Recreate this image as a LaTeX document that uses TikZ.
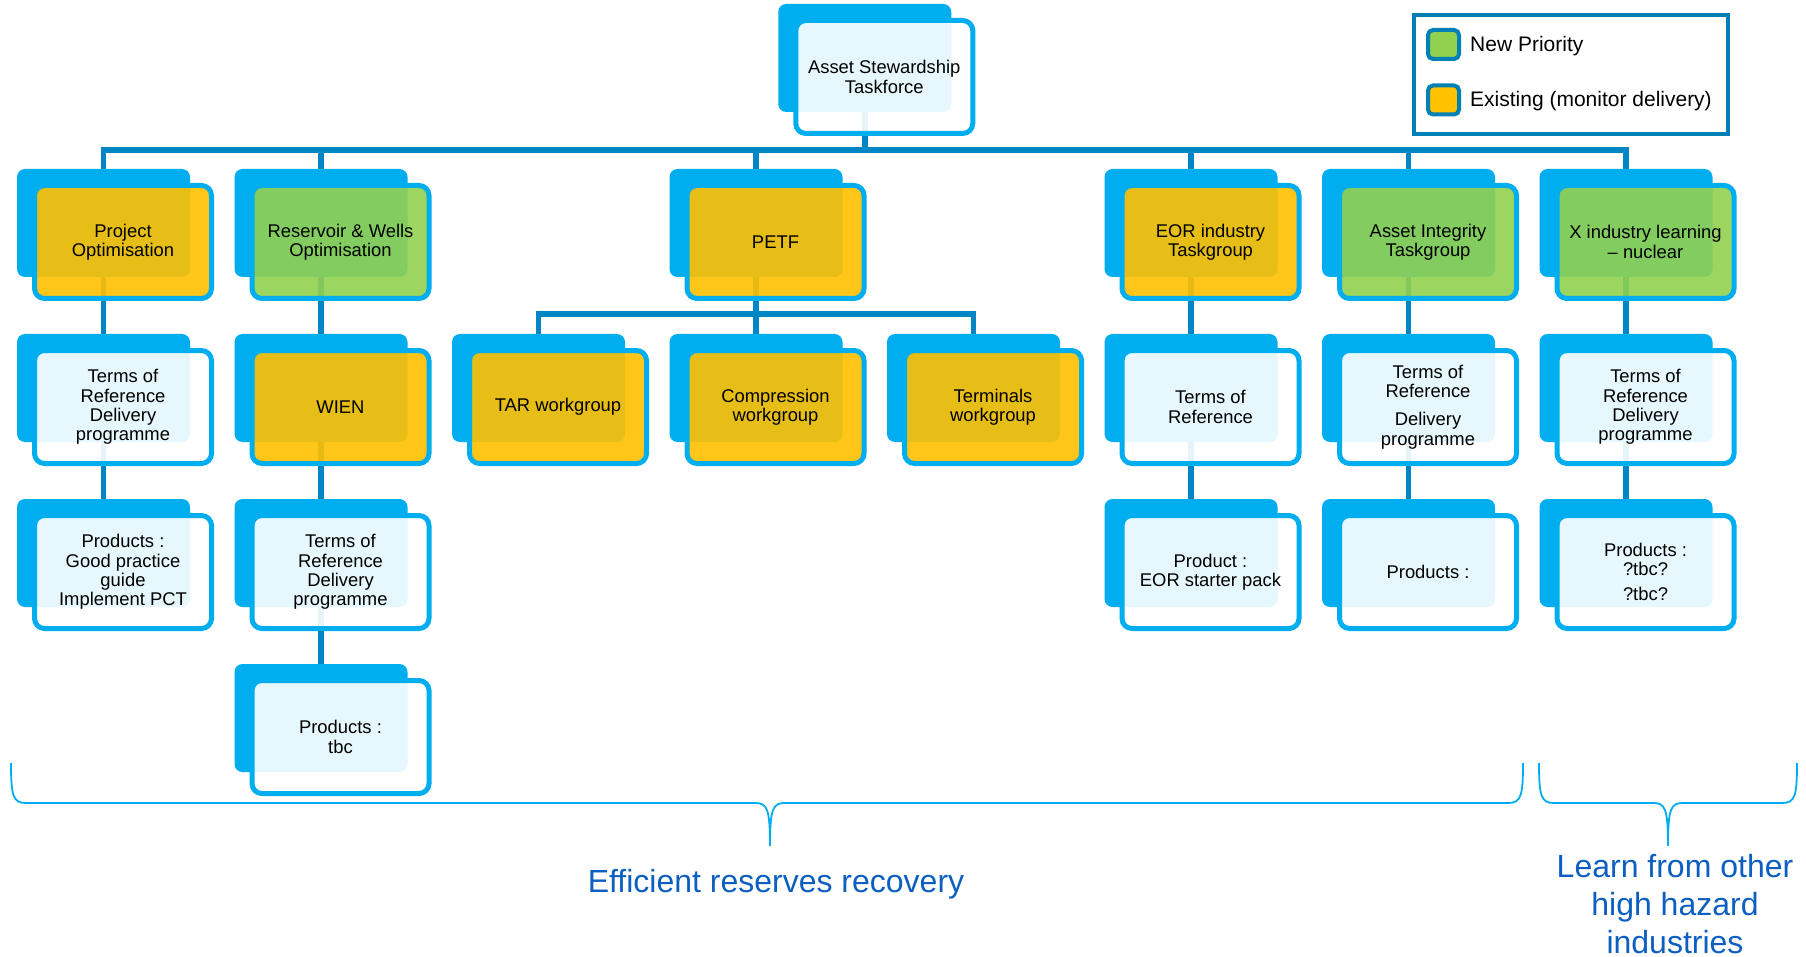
\documentclass[tikz,border=0pt]{standalone}
\usepackage{fontspec}
\setmainfont{Liberation Sans}
\usetikzlibrary{positioning,backgrounds}

\definecolor{boxblue}{RGB}{0,174,239}
\definecolor{linkblue}{RGB}{0,134,196}
\definecolor{legblue}{RGB}{0,128,180}
\definecolor{newgreen}{RGB}{146,208,80}
\definecolor{oldyellow}{RGB}{255,192,0}
\definecolor{bracetext}{RGB}{12,94,192}

\tikzset{
  backbox/.style={fill=boxblue, rounded corners=8pt, minimum width=173pt,
    minimum height=108pt, inner sep=0pt},
  frontbox/.style={draw=boxblue, line width=5pt, rounded corners=10pt,
    minimum width=177pt, minimum height=113pt, inner sep=0pt,
    fill opacity=0.9, text opacity=1, align=center,
    font=\fontsize{18.4}{19.3}\selectfont},
  link/.style={draw=linkblue, line width=5.5pt},
  brace/.style={draw=boxblue, line width=1.8pt},
  legsquare/.style={draw=legblue, line width=4pt, rounded corners=5pt,
    minimum width=31pt, minimum height=29pt, inner sep=0pt},
  leglabel/.style={font=\fontsize{21}{24}\selectfont, inner sep=0pt}
}

% back card + front card, placed by column and row
\newcommand\tfbox[5][white]{%
  \node[backbox] (#2-b) at ({103.5+217.5*#3},{58+165*#4}) {};
  \node[frontbox, fill=#1] (#2) at ([shift={(19.5,19)}]#2-b.center) {#5};
}

\begin{document}
\begin{tikzpicture}[x=1pt,y=-1pt]
\useasboundingbox (0,0) rectangle (1806,957);

% top
\tfbox{top}{3.5}{0}{Asset Stewardship\\Taskforce}

% first level
\tfbox[oldyellow]{po}{0}{1}{Project\\Optimisation}
\tfbox[newgreen]{rw}{1}{1}{Reservoir \& Wells\\Optimisation}
\tfbox[oldyellow]{petf}{3}{1}{PETF}
\tfbox[oldyellow]{eor}{5}{1}{EOR industry\\Taskgroup}
\tfbox[newgreen]{ai}{6}{1}{Asset Integrity\\Taskgroup}
\tfbox[newgreen]{xil}{7}{1}{X industry learning\\– nuclear}

% second level
\tfbox{potor}{0}{2}{Terms of\\Reference\\Delivery\\programme}
\tfbox[oldyellow]{wien}{1}{2}{WIEN}
\tfbox[oldyellow]{tar}{2}{2}{TAR workgroup}
\tfbox[oldyellow]{comp}{3}{2}{Compression\\workgroup}
\tfbox[oldyellow]{term}{4}{2}{Terminals\\workgroup}
\tfbox{eortor}{5}{2}{Terms of\\Reference}
\tfbox{aitor}{6}{2}{Terms of\\Reference\\[9pt]Delivery\\programme}
\tfbox{xiltor}{7}{2}{Terms of\\Reference\\Delivery\\programme}

% third level
\tfbox{poprod}{0}{3}{Products :\\Good practice\\guide\\Implement PCT}
\tfbox{rwtor}{1}{3}{Terms of\\Reference\\Delivery\\programme}
\tfbox{eorprod}{5}{3}{Product :\\EOR starter pack}
\tfbox{aiprod}{6}{3}{Products :}
\tfbox{xilprod}{7}{3}{Products :\\?tbc?\\[6pt]?tbc?}

% fourth level
\tfbox{rwprod}{1}{4}{Products :\\tbc}

% connectors under the cards
\coordinate (bus) at (864.75,150);
\coordinate (petfbus) at (756,314);
\begin{pgfonlayer}{background}
\draw[link] (top-b) -- (bus);
\foreach \n in {po,rw,petf,eor,ai,xil}
  \draw[link] (\n-b) |- (bus);
\foreach \n in {tar,comp,term}
  \draw[link] (\n-b) |- (petfbus);
\draw[link] (petf-b) -- (petfbus);
\draw[link] (po-b) -- (potor-b) -- (poprod-b);
\draw[link] (rw-b) -- (wien-b) -- (rwtor-b) -- (rwprod-b);
\draw[link] (eor-b) -- (eortor-b) -- (eorprod-b);
\draw[link] (ai-b) -- (aitor-b) -- (aiprod-b);
\draw[link] (xil-b) -- (xiltor-b) -- (xilprod-b);
\end{pgfonlayer}

% legend
\node[draw=legblue, line width=4pt, minimum width=314pt, minimum height=119pt,
  inner sep=0pt] (legend) at (1571,74.5) {};
\node[legsquare, fill=newgreen] (newsq) at (1443.5,44.5) {};
\node[legsquare, fill=oldyellow] (oldsq) at (1443.5,100) {};
\node[leglabel, right=9pt of newsq, yshift=-2pt] (newlbl) {New Priority};
\node[leglabel, right=9pt of oldsq, yshift=-1pt] (oldlbl) {Existing (monitor delivery)};

% braces
\coordinate (b1tip) at (770,846);
\coordinate (b2tip) at (1668,846);
\draw[brace] (11,763) .. controls (11,796) and (13,803) .. (26,803) -- (755,803)
  .. controls (767,803) and (770,808) .. (b1tip)
  .. controls (770,808) and (773,803) .. (785,803) -- (1508,803)
  .. controls (1521,803) and (1523,796) .. (1523,763);
\draw[brace] (1539,763) .. controls (1539,796) and (1541,803) .. (1554,803) -- (1653,803)
  .. controls (1665,803) and (1668,808) .. (b2tip)
  .. controls (1668,808) and (1671,803) .. (1683,803) -- (1782,803)
  .. controls (1795,803) and (1797,796) .. (1797,763);

\node[text=bracetext, font=\fontsize{32}{38.5}\selectfont] (eff) at (776,884)
  {Efficient reserves recovery};
\node[text=bracetext, font=\fontsize{32}{38}\selectfont, align=center] (learn)
  at (1675,904) {Learn from other\\high hazard\\industries};
\end{tikzpicture}
\end{document}
